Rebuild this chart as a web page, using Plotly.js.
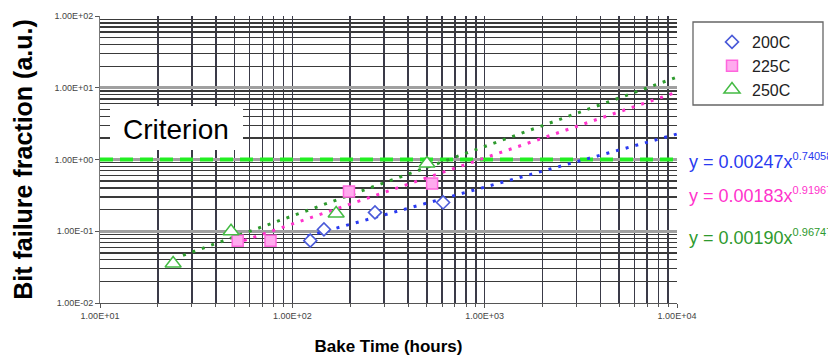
<!DOCTYPE html>
<html>
<head>
<meta charset="utf-8">
<script src="https://cdn.plot.ly/plotly-3.0.1.min.js"></script>
<style>html,body{margin:0;padding:0;background:#fff;}#chart{width:828px;height:356px;}</style>
</head>
<body>
<div id="chart"></div>
<script>
// ---- data ----
const series200X = [124, 146, 269, 608];
const series200Y = [0.074, 0.106, 0.183, 0.252];
const series225X = [52, 77, 197, 533];
const series225Y = [0.074, 0.074, 0.358, 0.463];
const series250X = [24, 48, 169, 501];
const series250Y = [0.0355, 0.100, 0.177, 0.88];

// power-law trend lines (straight on log-log): endpoints
const trend200X = [120, 10000];
const trend200Y = [0.0857, 2.265];
const trend225X = [50, 10000];
const trend225Y = [0.0668, 8.73];
const trend250X = [27, 10000];
const trend250Y = [0.0461, 14.08];

const criterionX = [10, 10000];
const criterionY = [1, 1];

const xTickVals = [10, 100, 1000, 10000];
const xTickText = ['1.00E+01', '1.00E+02', '1.00E+03', '1.00E+04'];
const yTickVals = [0.01, 0.1, 1, 10, 100];
const yTickText = ['1.00E-02', '1.00E-01', '1.00E+00', '1.00E+01', '1.00E+02'];

const seriesNames = ['200C', '225C', '250C'];
const eqCoef = ['0.00247', '0.00183', '0.00190'];
const eqExp = ['0.74058', '0.91967', '0.96747'];

// ---- styling ----
const FONT = 'Arial, "Liberation Sans", sans-serif';
const colBlue = '#2a3af0', colPink = '#ff33cc', colGreen = '#2e9a2e';

const traces = [
  {x: criterionX, y: criterionY, mode: 'lines', showlegend: false, hoverinfo: 'skip',
   line: {color: '#22ee22', width: 4, dash: '13px,7px'}},
  {x: trend200X, y: trend200Y, mode: 'lines', showlegend: false, line: {color: colBlue, width: 3, dash: '3px,7px'}},
  {x: trend225X, y: trend225Y, mode: 'lines', showlegend: false, line: {color: colPink, width: 3, dash: '3px,7px'}},
  {x: trend250X, y: trend250Y, mode: 'lines', showlegend: false, line: {color: colGreen, width: 3, dash: '3px,7px'}},
  {x: series200X, y: series200Y, mode: 'markers', name: seriesNames[0],
   marker: {symbol: 'diamond', size: 10, color: '#ffffff', line: {color: '#4a5ad8', width: 1.6}}},
  {x: series225X, y: series225Y, mode: 'markers', name: seriesNames[1],
   marker: {symbol: 'square', size: 11, color: '#ffaaee', line: {color: '#ff66dd', width: 1.5}}},
  {x: series250X, y: series250Y, mode: 'markers', name: seriesNames[2],
   marker: {symbol: 'triangle-up', size: 14, color: '#ffffff', line: {color: '#44bb44', width: 1.5}}}
];

const L = 100, R = 677, T = 16, B = 303;
const W = R - L, H = B - T;
const px = v => (v - L) / W;
const py = v => (B - v) / H;

const eqColors = [colBlue, colPink, colGreen];
const eqY = [161, 195, 237];
const eqAnnotations = eqCoef.map((c, i) => ({
  xref: 'paper', yref: 'paper', x: px(687), y: py(eqY[i]),
  text: 'y = ' + c + 'x<sup><span style="font-size:11px">' + eqExp[i] + '</span></sup>',
  showarrow: false, font: {size: 18, family: FONT, color: eqColors[i]}, xanchor: 'left', yanchor: 'middle'
}));

const layout = {
  width: 828, height: 356,
  margin: {l: L, r: 828 - R, t: T, b: 356 - B},
  paper_bgcolor: '#ffffff', plot_bgcolor: '#ffffff',
  font: {family: FONT, color: '#000'},
  xaxis: {
    type: 'log', range: [1, 4], tickmode: 'array', tickvals: xTickVals, ticktext: xTickText,
    tickfont: {size: 9, color: '#444', family: FONT},
    showgrid: true, gridcolor: '#3a3a48', gridwidth: 1.5,
    showline: true, linecolor: '#555', linewidth: 1, mirror: false,
    ticks: 'outside', ticklen: 4, tickcolor: '#555',
    minor: {dtick: 'D1', showgrid: true, gridcolor: '#3a3a48', gridwidth: 1.5, ticks: 'outside', ticklen: 3, tickcolor: '#555'},
    zeroline: false, automargin: false,
    title: {text: 'Bake Time (hours)', font: {size: 17, family: FONT, weight: 'bold', color: '#000'}, standoff: 21}
  },
  yaxis: {
    type: 'log', range: [-2, 2], tickmode: 'array', tickvals: yTickVals, ticktext: yTickText,
    tickfont: {size: 9, color: '#444', family: FONT},
    showgrid: true, gridcolor: '#a0a0a0', gridwidth: 3,
    showline: true, linecolor: '#777', linewidth: 1,
    ticks: 'outside', ticklen: 4, tickcolor: '#555',
    minor: {dtick: 'D1', showgrid: true, gridcolor: '#3a3a3a', gridwidth: 1.3},
    zeroline: false, automargin: false,
    title: {text: 'Bit failure fraction (a.u.)', font: {size: 25, family: FONT, weight: 'bold', color: '#000'}, standoff: 14}
  },
  showlegend: true,
  legend: {
    x: px(712), y: py(25), xanchor: 'left', yanchor: 'top',
    bgcolor: 'rgba(0,0,0,0)', borderwidth: 0,
    font: {size: 16, family: FONT, color: '#222'}, tracegroupgap: 0
  },
  shapes: [
    {type: 'rect', xref: 'paper', yref: 'paper', x0: px(110), x1: px(243), y0: py(150), y1: py(106),
     fillcolor: '#ffffff', line: {width: 0}, layer: 'above'},
    {type: 'rect', xref: 'paper', yref: 'paper', x0: px(693), x1: px(823), y0: py(105), y1: py(22),
     fillcolor: 'rgba(0,0,0,0)', line: {color: '#666', width: 1.3}}
  ],
  annotations: [
    {xref: 'paper', yref: 'paper', x: px(176), y: py(129), text: 'Criterion', showarrow: false,
     font: {size: 28, family: FONT, color: '#000'}, xanchor: 'center', yanchor: 'middle'}
  ].concat(eqAnnotations)
};

Plotly.newPlot('chart', traces, layout, {displayModeBar: false, staticPlot: true});
</script>
</body>
</html>
